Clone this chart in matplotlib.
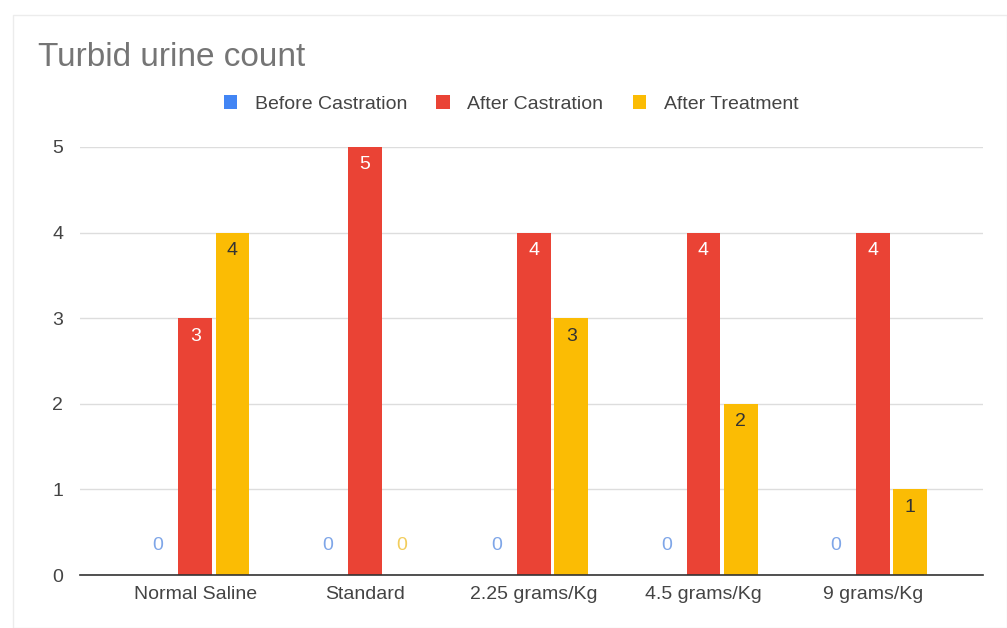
import numpy as np
import matplotlib.pyplot as plt
from matplotlib.patches import Rectangle

# grupos e contagens de urina turva
grupos = ['Normal Saline', 'Standard', '2.25 grams/Kg', '4.5 grams/Kg', '9 grams/Kg']
antes_castracao = [0, 0, 0, 0, 0]
apos_castracao = [3, 5, 4, 4, 4]
apos_tratamento = [4, 0, 3, 2, 1]

series = ['Before Castration', 'After Castration', 'After Treatment']
cores = ['#4285F4', '#EA4335', '#FBBC04']
cores_zero = ['#7FA6E8', '#EA4335', '#F2CD5C']

plt.rcParams['font.family'] = ['Liberation Sans', 'DejaVu Sans']
fs = 14

fig = plt.figure(figsize=(10.07, 6.28), dpi=100)
fig.patches.append(Rectangle((13 / 1007, 0.0), 1 - 13 / 1007, 1 - 15 / 628,
                             transform=fig.transFigure, fill=False,
                             edgecolor='#ececec', linewidth=1))

ax = fig.add_axes([80 / 1007, 1 - 575 / 628, (983 - 80) / 1007, (575 - 147) / 628])

x = np.arange(len(grupos))
largura = 0.2
desloc = [-0.22, 0.0, 0.22]
dados = [antes_castracao, apos_castracao, apos_tratamento]

for i, (vals, cor) in enumerate(zip(dados, cores)):
    ax.bar(x + desloc[i], vals, width=largura, color=cor, label=series[i], zorder=3)
    for xi, v in zip(x + desloc[i], vals):
        if v == 0:
            ax.text(xi, 0.35, '0', ha='center', va='center', fontsize=fs,
                    color=cores_zero[i], zorder=4)
        else:
            cor_txt = 'white' if i == 1 else '#333333'
            ax.text(xi, v - 0.21, str(v), ha='center', va='center', fontsize=fs,
                    color=cor_txt, zorder=4)

ax.set_xlim(-0.68, 4.65)
ax.set_ylim(0, 5)
ax.set_yticks(range(0, 6))
ax.set_xticks(x)
ax.set_xticklabels(grupos)
ax.tick_params(axis='both', length=0, labelsize=fs, colors='#444444')
ax.tick_params(axis='y', pad=12)
ax.tick_params(axis='x', pad=8)
ax.grid(axis='y', color='#dddddd', linewidth=1, zorder=0)
for lado in ['top', 'right', 'left']:
    ax.spines[lado].set_visible(False)
ax.spines['bottom'].set_color('#333333')
ax.spines['bottom'].set_linewidth(1.2)
ax.spines['bottom'].set_zorder(5)

fig.text(38 / 1007, 1 - 57 / 628, 'Turbid urine count', fontsize=24,
         color='#757575', ha='left', va='center')

fig.legend(loc='center', bbox_to_anchor=(511 / 1007, 1 - 104 / 628), ncol=3,
           frameon=False, fontsize=fs, handlelength=0.7, handleheight=0.7,
           handletextpad=0.9, columnspacing=1.5, labelcolor='#444444')

fig.savefig('out.png', dpi=100)
